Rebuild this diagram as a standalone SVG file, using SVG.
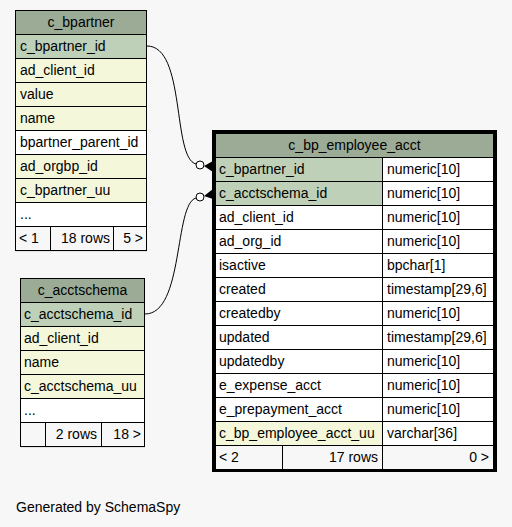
<svg xmlns="http://www.w3.org/2000/svg" width="512" height="527" viewBox="0 0 512 527">
<style>
text{font-family:"Liberation Sans",Arial,sans-serif;font-size:14px;fill:#000}
.c{stroke:#000;stroke-width:1}
.h{fill:#9bab96}
.k{fill:#bed1b8}
.y{fill:#f4f7da}
.w{fill:#ffffff}
.f{fill:#f7f7f7}
.m{text-anchor:middle}
.e{text-anchor:end}
.edge{fill:none;stroke:#000;stroke-width:1}
.dot{fill:#fff;stroke:#000;stroke-width:1}
</style>
<rect width="512" height="527" fill="#f7f7f7"/>

<g id="c_bpartner">
<rect x="16" y="11" width="131" height="241" fill="#e2e2e2"/>
<rect class="c h" x="15.5" y="10.5" width="131" height="24"/>
<text class="m" x="81" y="27">c_bpartner</text>
<rect class="c k" x="15.5" y="34.5" width="131" height="24"/>
<text x="20" y="51">c_bpartner_id</text>
<rect class="c y" x="15.5" y="58.5" width="131" height="24"/>
<text x="20" y="75">ad_client_id</text>
<rect class="c y" x="15.5" y="82.5" width="131" height="24"/>
<text x="20" y="99">value</text>
<rect class="c y" x="15.5" y="106.5" width="131" height="24"/>
<text x="20" y="123">name</text>
<rect class="c w" x="15.5" y="130.5" width="131" height="24"/>
<text x="20" y="147">bpartner_parent_id</text>
<rect class="c y" x="15.5" y="154.5" width="131" height="24"/>
<text x="20" y="171">ad_orgbp_id</text>
<rect class="c y" x="15.5" y="178.5" width="131" height="24"/>
<text x="20" y="195">c_bpartner_uu</text>
<rect class="c w" x="15.5" y="202.5" width="131" height="24"/>
<text x="20" y="219">...</text>
<rect class="c f" x="15.5" y="226.5" width="35" height="24"/>
<rect class="c f" x="50.5" y="226.5" width="63" height="24"/>
<rect class="c f" x="113.5" y="226.5" width="33" height="24"/>
<text x="19" y="243">&lt; 1</text>
<text class="e" x="110" y="243">18 rows</text>
<text class="e" x="143" y="243">5 &gt;</text>
</g>

<g id="c_acctschema">
<rect x="21" y="279" width="124" height="169" fill="#e2e2e2"/>
<rect class="c h" x="20.5" y="278.5" width="124" height="24"/>
<text class="m" x="82.5" y="295">c_acctschema</text>
<rect class="c k" x="20.5" y="302.5" width="124" height="24"/>
<text x="24" y="319">c_acctschema_id</text>
<rect class="c y" x="20.5" y="326.5" width="124" height="24"/>
<text x="24" y="343">ad_client_id</text>
<rect class="c y" x="20.5" y="350.5" width="124" height="24"/>
<text x="24" y="367">name</text>
<rect class="c y" x="20.5" y="374.5" width="124" height="24"/>
<text x="24" y="391">c_acctschema_uu</text>
<rect class="c w" x="20.5" y="398.5" width="124" height="24"/>
<text x="24" y="415">...</text>
<rect class="c f" x="20.5" y="422.5" width="25" height="24"/>
<rect class="c f" x="45.5" y="422.5" width="56" height="24"/>
<rect class="c f" x="101.5" y="422.5" width="43" height="24"/>
<text class="e" x="97" y="439">2 rows</text>
<text class="e" x="141" y="439">18 &gt;</text>
</g>

<g id="c_bp_employee_acct">
<rect class="c h" x="215.5" y="133.5" width="278" height="24"/>
<text class="m" x="354.5" y="150">c_bp_employee_acct</text>
<rect class="c k" x="215.5" y="157.5" width="167" height="24"/>
<rect class="c w" x="382.5" y="157.5" width="111" height="24"/>
<text x="219" y="174">c_bpartner_id</text><text x="387" y="174">numeric[10]</text>
<rect class="c k" x="215.5" y="181.5" width="167" height="24"/>
<rect class="c w" x="382.5" y="181.5" width="111" height="24"/>
<text x="219" y="198">c_acctschema_id</text><text x="387" y="198">numeric[10]</text>
<rect class="c w" x="215.5" y="205.5" width="167" height="24"/>
<rect class="c w" x="382.5" y="205.5" width="111" height="24"/>
<text x="219" y="222">ad_client_id</text><text x="387" y="222">numeric[10]</text>
<rect class="c w" x="215.5" y="229.5" width="167" height="24"/>
<rect class="c w" x="382.5" y="229.5" width="111" height="24"/>
<text x="219" y="246">ad_org_id</text><text x="387" y="246">numeric[10]</text>
<rect class="c w" x="215.5" y="253.5" width="167" height="24"/>
<rect class="c w" x="382.5" y="253.5" width="111" height="24"/>
<text x="219" y="270">isactive</text><text x="387" y="270">bpchar[1]</text>
<rect class="c w" x="215.5" y="277.5" width="167" height="24"/>
<rect class="c w" x="382.5" y="277.5" width="111" height="24"/>
<text x="219" y="294">created</text><text x="387" y="294">timestamp[29,6]</text>
<rect class="c w" x="215.5" y="301.5" width="167" height="24"/>
<rect class="c w" x="382.5" y="301.5" width="111" height="24"/>
<text x="219" y="318">createdby</text><text x="387" y="318">numeric[10]</text>
<rect class="c w" x="215.5" y="325.5" width="167" height="24"/>
<rect class="c w" x="382.5" y="325.5" width="111" height="24"/>
<text x="219" y="342">updated</text><text x="387" y="342">timestamp[29,6]</text>
<rect class="c w" x="215.5" y="349.5" width="167" height="24"/>
<rect class="c w" x="382.5" y="349.5" width="111" height="24"/>
<text x="219" y="366">updatedby</text><text x="387" y="366">numeric[10]</text>
<rect class="c w" x="215.5" y="373.5" width="167" height="24"/>
<rect class="c w" x="382.5" y="373.5" width="111" height="24"/>
<text x="219" y="390">e_expense_acct</text><text x="387" y="390">numeric[10]</text>
<rect class="c w" x="215.5" y="397.5" width="167" height="24"/>
<rect class="c w" x="382.5" y="397.5" width="111" height="24"/>
<text x="219" y="414">e_prepayment_acct</text><text x="387" y="414">numeric[10]</text>
<rect class="c y" x="215.5" y="421.5" width="167" height="24"/>
<rect class="c w" x="382.5" y="421.5" width="111" height="24"/>
<text x="219" y="438">c_bp_employee_acct_uu</text><text x="387" y="438">varchar[36]</text>
<rect class="c f" x="215.5" y="445.5" width="67" height="24"/>
<rect class="c f" x="282.5" y="445.5" width="100" height="24"/>
<rect class="c f" x="382.5" y="445.5" width="111" height="24"/>
<text x="219" y="462">&lt; 2</text>
<text class="e" x="378" y="462">17 rows</text>
<text class="e" x="489" y="462">0 &gt;</text>
<rect x="213.5" y="131.5" width="282" height="339" fill="none" stroke="#000" stroke-width="3"/>
</g>

<g id="connectors">
<path class="edge" d="M147,46 C186,46 172,158 196,164"/>
<polygon points="204,166 213,161 213,172" fill="#000"/>
<circle class="dot" cx="200" cy="165" r="4"/>
<path class="edge" d="M145,314 C184,314 174,204 196,198"/>
<polygon points="204,196 213,189 213,199" fill="#000"/>
<circle class="dot" cx="200" cy="197" r="4"/>
</g>

<text x="16" y="512">Generated by SchemaSpy</text>
</svg>
